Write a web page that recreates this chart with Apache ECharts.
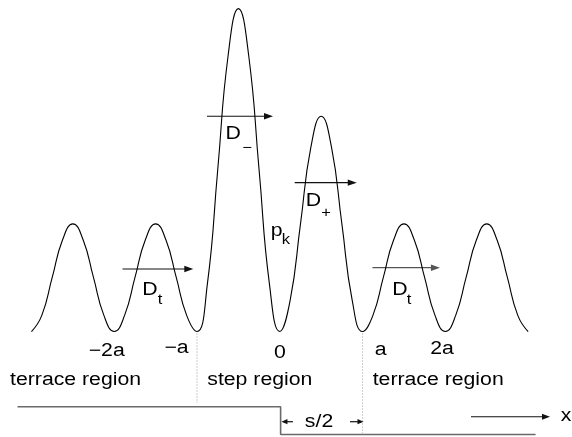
<!DOCTYPE html>
<html><head><meta charset="utf-8">
<script src="https://cdn.jsdelivr.net/npm/echarts@6/dist/echarts.min.js"></script>
<style>html,body{margin:0;padding:0;background:#fff}#c{width:572px;height:437px}</style>
</head><body><div id="c"></div>
<script>
// ---- data (x in units of a, y in potential units) ----
const curveX = [-3,-2.875,-2.75,-2.625,-2.5,-2.375,-2.25,-2.125,
  -2,-1.875,-1.75,-1.625,-1.5,-1.375,-1.25,-1.125,
  -1,-0.875,-0.75,-0.625,-0.5,-0.375,-0.25,-0.125,
  0,0.125,0.25,0.375,0.5,0.625,0.75,0.875,
  1,1.125,1.25,1.375,1.5,1.625,1.75,1.875,
  2,2.125,2.25,2.375,2.5,2.625,2.75,2.875,3];
const curveY = [0,0.15,0.5,0.85,1,0.85,0.5,0.15,
  0,0.15,0.5,0.85,1,0.85,0.5,0.15,
  0,0.44,1.5,2.56,3,2.56,1.5,0.44,
  0,0.29,1,1.71,2,1.71,1,0.29,
  0,0.15,0.5,0.85,1,0.85,0.5,0.15,
  0,0.15,0.5,0.85,1,0.85,0.5,0.15,0];

// step profile below the curve
const stepX = [-3.169, 0.01, 0.01, 3.09];
const stepY = [-0.699, -0.699, -0.957, -0.957];

// dotted region boundaries
const boundaryX = [-1, 1];
const boundaryTop = [0, 0];
const boundaryBottom = [-0.665, -0.943];

// arrows: from x, to x, at y
const arrowFrom = [-1.90, -0.88, 0.18, 1.12, 0.159, 0.848, 2.31];
const arrowTo   = [-1.045, -0.082, 0.93, 1.935, 0.02, 1.011, 3.264];
const arrowY    = [0.581, 2.0, 1.383, 0.593, -0.838, -0.838, -0.792];

// tick labels
const tickLabels = ['\u22122a', '\u2212a', '0', 'a', '2a'];
const tickX = [-2.091, -1.248, 0, 1.219, 1.959];
const tickY = [-0.177, -0.151, -0.201, -0.170, -0.161];

// region labels
const regionLabels = ['terrace region', 'step region', 'terrace region'];
const regionX = [-3.259, -0.876, 1.122];
const regionY = [-0.455, -0.455, -0.455];

// symbol labels
const symLabels = ['D', 'D', 'D', 'D', 'p', 's/2', 'x'];
const symX = [-1.568, -0.562, 0.405, 1.452, -0.037, 0.474, 3.457];
const symY = [0.390, 1.837, 1.212, 0.390, 0.933, -0.842, -0.781];

// subscripts
const subLabels = ['t', '\u2212', '+', 't', 'k'];
const subX = [-1.447, -0.396, 0.558, 1.561, 0.075];
const subY = [0.291, 1.708, 1.099, 0.291, 0.849];

// ---- view / style ----
const X_MIN = -3.38, X_MAX = 3.53, Y_MIN = -0.98, Y_MAX = 3.08;
const FONT = '"Liberation Sans", Arial, Helvetica, sans-serif';
const SX = 1.18;
const arrowColors = ['#111', '#111', '#111', '#555', '#111', '#111', '#111'];
const arrowHeadLen = [9, 9, 9, 9, 6, 6, 8];
const arrowHeadHalf = [3.2, 3.2, 3.2, 3.2, 2.6, 2.6, 3];

function textSeries(labels, xs, ys, size, align) {
  return {
    type: 'custom', silent: true, clip: false,
    data: xs.map((x, i) => [x, ys[i]]),
    renderItem: (params, api) => {
      const p = api.coord([api.value(0), api.value(1)]);
      return {
        type: 'text', x: p[0], y: p[1], scaleX: SX,
        style: { text: labels[params.dataIndex], fontSize: size, fontFamily: FONT,
          fill: '#000', align: align, verticalAlign: 'middle' }
      };
    }
  };
}

const chart = echarts.init(document.getElementById('c'), null, { renderer: 'canvas' });
chart.setOption({
  animation: false,
  backgroundColor: '#fff',
  grid: { left: 0, right: 0, top: 0, bottom: 0 },
  xAxis: { type: 'value', min: X_MIN, max: X_MAX, show: false },
  yAxis: { type: 'value', min: Y_MIN, max: Y_MAX, show: false },
  series: [
    {
      type: 'line', name: 'potential', data: curveX.map((x, i) => [x, curveY[i]]),
      smooth: true, symbol: 'none', silent: true,
      lineStyle: { color: '#000', width: 1.1 }
    },
    {
      type: 'line', name: 'step', data: stepX.map((x, i) => [x, stepY[i]]),
      symbol: 'none', silent: true,
      lineStyle: { color: '#6a6a6a', width: 1.6 }
    },
    {
      type: 'custom', silent: true, clip: false,
      data: boundaryX.map((x, i) => [x, boundaryTop[i], boundaryBottom[i]]),
      renderItem: (params, api) => {
        const a = api.coord([api.value(0), api.value(1)]);
        const b = api.coord([api.value(0), api.value(2)]);
        return { type: 'line', shape: { x1: a[0], y1: a[1] + 2, x2: b[0], y2: b[1] },
          style: { stroke: '#999', lineWidth: 1, lineDash: [1, 2] } };
      }
    },
    {
      type: 'custom', silent: true, clip: false,
      data: arrowFrom.map((x, i) => [x, arrowTo[i], arrowY[i]]),
      renderItem: (params, api) => {
        const i = params.dataIndex;
        const p1 = api.coord([api.value(0), api.value(2)]);
        const p2 = api.coord([api.value(1), api.value(2)]);
        const d = Math.sign(p2[0] - p1[0]);
        const L = arrowHeadLen[i], W = arrowHeadHalf[i], c = arrowColors[i];
        return { type: 'group', children: [
          { type: 'line', shape: { x1: p1[0], y1: p1[1], x2: p2[0] - d * L * 0.5, y2: p2[1] },
            style: { stroke: c, lineWidth: 1.2 } },
          { type: 'polygon', shape: { points: [[p2[0], p2[1]], [p2[0] - d * L, p2[1] - W], [p2[0] - d * L, p2[1] + W]] },
            style: { fill: c } }
        ] };
      }
    },
    textSeries(tickLabels, tickX, tickY, 18, 'center'),
    textSeries(regionLabels, regionX, regionY, 18, 'left'),
    textSeries(symLabels, symX, symY, 18, 'center'),
    textSeries(subLabels, subX, subY, 14, 'center')
  ]
});
</script>
</body></html>
